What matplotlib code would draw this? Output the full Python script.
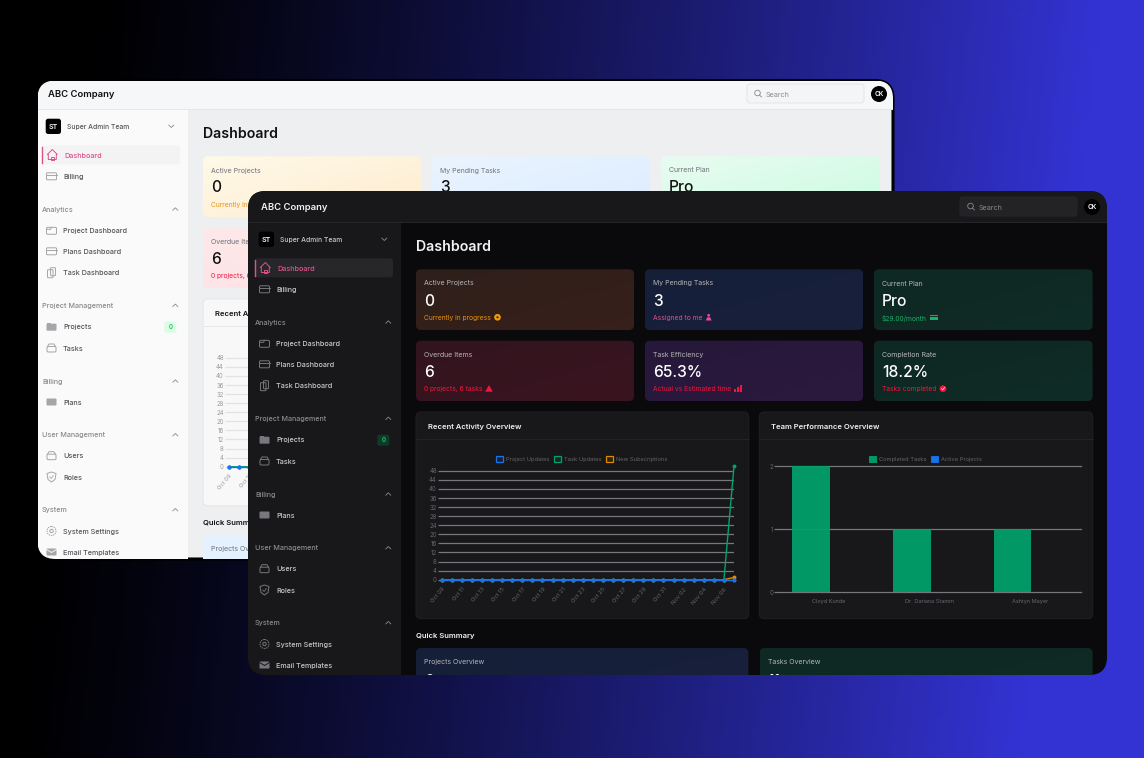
import numpy as np
import matplotlib
matplotlib.use("Agg")
import matplotlib.pyplot as plt
from matplotlib.patches import FancyBboxPatch, Rectangle, Polygon, Circle, Patch
from matplotlib.text import Text
from matplotlib.transforms import Bbox, TransformedBbox

plt.rcParams['font.family'] = ['Inter', 'DejaVu Sans']

W, H = 1144, 758

# chart data
activity_dates = ['Oct 09', 'Oct 10', 'Oct 11', 'Oct 12', 'Oct 13', 'Oct 14', 'Oct 15', 'Oct 16', 'Oct 17', 'Oct 18',
                  'Oct 19', 'Oct 20', 'Oct 21', 'Oct 22', 'Oct 23', 'Oct 24', 'Oct 25', 'Oct 26', 'Oct 27', 'Oct 28',
                  'Oct 29', 'Oct 30', 'Oct 31', 'Nov 01', 'Nov 02', 'Nov 03', 'Nov 04', 'Nov 05', 'Nov 06', 'Nov 07']
project_updates = [0, 0, 0, 0, 0, 0, 0, 0, 0, 0, 0, 0, 0, 0, 0, 0, 0, 0, 0, 0, 0, 0, 0, 0, 0, 0, 0, 0, 0, 0]
task_updates = [0, 0, 0, 0, 0, 0, 0, 0, 0, 0, 0, 0, 0, 0, 0, 0, 0, 0, 0, 0, 0, 0, 0, 0, 0, 0, 0, 0, 0, 50]
new_subscriptions = [0, 0, 0, 0, 0, 0, 0, 0, 0, 0, 0, 0, 0, 0, 0, 0, 0, 0, 0, 0, 0, 0, 0, 0, 0, 0, 0, 0, 0, 1]

team_members = ['Cloyd Kunde', 'Dr. Dariana Stamm', 'Ashtyn Mayer']
completed_tasks = [2, 1, 1]
active_projects = [0, 0, 0]

# stat cards
card_labels = ['Active Projects', 'My Pending Tasks', 'Current Plan', 'Overdue Items', 'Task Efficiency', 'Completion Rate']
card_values = ['0', '3', 'Pro', '6', '65.3%', '18.2%']
card_notes = ['Currently in progress', 'Assigned to me', '$29.00/month', '0 projects, 6 tasks', 'Actual vs Estimated time', 'Tasks completed']

BLUE, GREEN, ORANGE = '#1a73e8', '#00a36c', '#dd8a00'

DARK = dict(win='#0a0a0c', head='#18181b', side='#18181b', line='#26262a', title='#f2f2f2', text='#c8c8cc',
            muted='#8a8a8e', edge='none', chart='#18181b', chart_edge='#202024', grid='#77777c', tick='#66666b',
            active='#27272a', st='#000000', st_text='#ffffff', value='#ffffff', icon='#77777c', badge='#0d3b2a',
            search='#232326', avatar='#000000', sub='#b5b5b8',
            cards=[('#2e1f1a', '#38201a'), ('#161f38', '#18203c'), ('#0e2823', '#102c26'),
                   ('#32141e', '#3a1520'), ('#26183a', '#2c183e'), ('#0e2823', '#102c26'),
                   ('#161f38', '#18203c'), ('#0e2823', '#102c26')])
LIGHT = dict(win='#eeeff0', head='#f6f7f8', side='#fafafa', line='#e6e7e8', title='#111111', text='#55555a',
             muted='#8a8a8e', edge='#000000', chart='#f8f8f9', chart_edge='#e6e6e8', grid='#e2e2e4', tick='#9a9a9e',
             active='#f3f3f4', st='#000000', st_text='#ffffff', value='#111111', icon='#a5a5aa', badge='#dcfce7',
             search='#f4f5f6', avatar='#000000', sub='#70707a',
             cards=[('#fef9e8', '#ffecd0'), ('#eaf4fe', '#dcecfe'), ('#e8fbf1', '#ccfbe0'),
                    ('#fde9ea', '#ffe0e4'), ('#f3e8ff', '#ecdcff'), ('#e8fbf1', '#ccfbe0'),
                    ('#e6f2fe', '#dcecfe'), ('#e8fbf1', '#ccfbe0')])

fig = plt.figure(figsize=(W / 100, H / 100), dpi=100)


def layer(z):
    ax = fig.add_axes([0, 0, 1, 1], zorder=z)
    ax.set_xlim(0, W)
    ax.set_ylim(H, 0)
    ax.axis('off')
    return ax


def round_box(ax, x0, y0, x1, y1, r, fc, ec='none', lw=0.0, z=2):
    p = FancyBboxPatch((x0 + r, y0 + r), x1 - x0 - 2 * r, y1 - y0 - 2 * r, boxstyle='round,pad=%f,rounding_size=%f' % (r, r),
                       fc=fc, ec=ec, lw=lw, zorder=z)
    ax.add_patch(p)
    return p


def gradient_box(ax, x0, y0, x1, y1, r, c1, c2, win_box):
    p = round_box(ax, x0, y0, x1, y1, r, 'none')
    a = np.array(matplotlib.colors.to_rgb(c1))
    b = np.array(matplotlib.colors.to_rgb(c2))
    xx, yy = np.meshgrid(np.linspace(0, 1, 60), np.linspace(0, 1, 20))
    t = ((xx + yy) / 2)[..., None]
    im = ax.imshow(a + (b - a) * t, extent=(x0, x1, y1, y0), aspect='auto', zorder=2)
    im.set_clip_path(p)
    im.set_clip_box(win_box)
    im.gradient = True
    ax.set_xlim(0, W)
    ax.set_ylim(H, 0)


def draw_icon(ax, kind, x, y, c):
    s = dict(fc='none', ec=c, lw=0.7, zorder=5)
    if kind == 'home':
        ax.add_patch(Polygon([(x - 5, y), (x, y - 5), (x + 5, y), (x + 4, y), (x + 4, y + 5), (x - 4, y + 5), (x - 4, y)], closed=True, **s))
        ax.add_patch(Rectangle((x - 1.2, y + 2), 2.4, 3, **s))
    elif kind == 'card':
        round_box(ax, x - 5, y - 3.5, x + 5, y + 3.5, 1, 'none', c, 0.7, 5)
        ax.plot([x - 5, x + 5], [y - 1.5, y - 1.5], color=c, lw=0.7, zorder=5)
    elif kind == 'card_fill':
        round_box(ax, x - 5, y - 3.5, x + 5, y + 3.5, 1, c, 'none', 0, 5)
    elif kind == 'folder':
        round_box(ax, x - 5, y - 3, x + 5, y + 4, 1.2, 'none', c, 0.7, 5)
        ax.plot([x - 5, x - 1, x], [y - 1, y - 1, y - 3], color=c, lw=0.7, zorder=5)
    elif kind == 'folder_fill':
        round_box(ax, x - 5, y - 3, x + 5, y + 4, 1, c, 'none', 0, 5)
        ax.add_patch(Rectangle((x - 5, y - 4), 4, 2, fc=c, ec='none', zorder=5))
    elif kind == 'docs':
        round_box(ax, x - 4, y - 3, x + 1.5, y + 5, 0.8, 'none', c, 0.7, 5)
        round_box(ax, x - 1, y - 5, x + 4, y + 3, 0.8, 'none', c, 0.7, 5)
    elif kind == 'box':
        round_box(ax, x - 4.5, y - 1.5, x + 4.5, y + 4, 1.2, 'none', c, 0.7, 5)
        ax.plot([x - 4, x - 2.5, x + 2.5, x + 4], [y - 1.5, y - 4, y - 4, y - 1.5], color=c, lw=0.7, zorder=5)
    elif kind == 'shield':
        ax.add_patch(Polygon([(x - 4.5, y - 3.5), (x, y - 5), (x + 4.5, y - 3.5), (x + 3.5, y + 2.5), (x, y + 5), (x - 3.5, y + 2.5)], closed=True, **s))
        ax.plot([x - 1.8, x - 0.4, x + 1.8], [y, y + 1.5, y - 1.5], color=c, lw=0.6, zorder=5)
    elif kind == 'gear':
        ax.add_patch(Circle((x, y), 4.5, ls=(0, (1.5, 0.8)), **s))
        ax.add_patch(Circle((x, y), 1.7, **s))
    elif kind == 'mail':
        round_box(ax, x - 5, y - 3.5, x + 5, y + 3.5, 0.8, c, 'none', 0, 5)
        ax.plot([x - 5, x, x + 5], [y - 2.5, y + 0.5, y - 2.5], color='#f5f5f5' if c == LIGHT['icon'] else '#18181b', lw=0.7, zorder=6)


def chevron(ax, x, y, c, up=True):
    d = -1.2 if up else 1.2
    ax.plot([x - 2.5, x, x + 2.5], [y - d, y + d, y - d], color=c, lw=0.6, zorder=5)


def note_icon(ax, i, x, y):
    if i == 0:
        ax.add_patch(Circle((x, y), 3.3, fc='#f59e0b', ec='none', zorder=5))
        ax.add_patch(Circle((x, y), 1.1, fc='#35201a', ec='none', zorder=6))
    elif i == 1:
        ax.add_patch(Circle((x, y - 2), 1.4, fc='#ec4899', ec='none', zorder=5))
        ax.add_patch(Polygon([(x - 3, y + 3.2), (x - 1.5, y), (x + 1.5, y), (x + 3, y + 3.2)], fc='#ec4899', ec='none', zorder=5))
    elif i == 2:
        ax.add_patch(Rectangle((x - 4, y - 2.8), 8, 5.6, fc='#16b364', ec='none', zorder=5))
        ax.add_patch(Rectangle((x - 4, y - 1.2), 8, 0.9, fc='#0e2823', ec='none', zorder=6))
    elif i == 3:
        ax.add_patch(Polygon([(x - 3.8, y + 3), (x, y - 3.6), (x + 3.8, y + 3)], fc='#f4143c', ec='none', zorder=5))
    elif i == 4:
        for j, h in enumerate([2.5, 4.5, 6.5]):
            ax.add_patch(Rectangle((x - 4 + j * 2.9, y + 3 - h), 2.1, h, fc='#f4143c', ec='none', zorder=5))
    else:
        ax.add_patch(Circle((x, y), 3.4, fc='#f4143c', ec='none', zorder=5))
        ax.plot([x - 1.4, x - 0.3, x + 1.6], [y, y + 1.2, y - 1.2], color='white', lw=0.5, zorder=6)


def chart_axes(x0, y0, x1, y1, z):
    ax = fig.add_axes([x0 / W, 1 - y1 / H, (x1 - x0) / W, (y1 - y0) / H], zorder=z)
    ax.patch.set_visible(False)
    for s in ax.spines.values():
        s.set_visible(False)
    return ax


def draw_window(dx, dy, bounds, th, z):
    ax = layer(z)
    left, top, right, bottom = bounds
    win = round_box(ax, left, top, right, bottom, 18, th['win'], th['edge'], 2.2, 1)
    win_box = TransformedBbox(Bbox([[left, top], [right, bottom]]), ax.transData)

    def tx(x, y, s, c, size, weight='normal', ha='left'):
        # the light window is mostly behind the dark one, no text where it cant be seen
        if dx != 0 and x + dx > 248 and y + dy > 191:
            return
        ax.text(x + dx, y + dy + 0.7, s, color=c, fontsize=size, fontweight=weight, ha=ha, va='center', zorder=6)

    # header and sidebar
    ax.add_patch(Rectangle((left, top), right - left, 222 + dy - top, fc=th['head'], ec='none', zorder=1.5))
    ax.add_patch(Rectangle((left, 222 + dy), 401 + dx - left, bottom - top, fc=th['side'], ec='none', zorder=1.5))
    ax.plot([left, right], [222 + dy, 222 + dy], color=th['line'], lw=0.7, zorder=1.6)
    tx(261, 207, 'ABC Company', th['title'], 6.8, 'semibold')
    round_box(ax, 960 + dx, 197 + dy, 1077 + dx, 216 + dy, 3, th['search'], th['line'], 0.8, 3)
    ax.add_patch(Circle((970.5 + dx, 206 + dy), 2.8, fc='none', ec=th['muted'], lw=0.6, zorder=5))
    ax.plot([972.6 + dx, 974.5 + dx], [208.2 + dy, 210 + dy], color=th['muted'], lw=0.6, zorder=5)
    tx(979, 207, 'Search', th['muted'], 5.2)
    ax.add_patch(Circle((1092 + dx, 207 + dy), 8, fc=th['avatar'], ec='none', zorder=5))
    tx(1092, 206.5, 'CK', '#ffffff', 4.6, 'semibold', 'center')

    # team switcher and menu
    round_box(ax, 258.7 + dx, 231.7 + dy, 274 + dx, 247 + dy, 2.5, th['st'], z=3)
    tx(266.3, 239, 'ST', th['st_text'], 5, 'semibold', 'center')
    tx(280, 239.3, 'Super Admin Team', th['text'], 4.9, 'medium')
    chevron(ax, 384.3 + dx, 239.3 + dy, th['muted'], False)
    round_box(ax, 254.7 + dx, 258.3 + dy, 393 + dx, 277.3 + dy, 3, th['active'], z=3)
    ax.plot([255.2 + dx, 255.2 + dx], [260 + dy, 276 + dy], color='#e0508a', lw=1, zorder=4)
    draw_icon(ax, 'home', 265.3 + dx, 267.5 + dy, '#e0508a')
    tx(277, 268.3, 'Dashboard', '#e0508a', 5.2, 'medium')

    menu = [('card', 'Billing', 289.3), ('folder', 'Project Dashboard', 343.3), ('card', 'Plans Dashboard', 364.3),
            ('docs', 'Task Dashboard', 385.7), ('folder_fill', 'Projects', 439.7), ('box', 'Tasks', 461),
            ('card_fill', 'Plans', 515), ('box', 'Users', 568.7), ('shield', 'Roles', 590),
            ('gear', 'System Settings', 644), ('mail', 'Email Templates', 665)]
    for kind, name, y in menu:
        draw_icon(ax, kind, 264.5 + dx, y + dy, th['icon'])
        tx(276, y, name, th['text'], 5.2, 'medium')
    for name, y in [('Analytics', 322), ('Project Management', 418.3), ('Billing', 494), ('User Management', 547.7), ('System', 622.7)]:
        tx(255, y, name, th['muted'], 5.2, 'medium')
        chevron(ax, 388.3 + dx, y + dy, th['muted'])
    round_box(ax, 377.3 + dx, 434.7 + dy, 389.3 + dx, 445.7 + dy, 2, th['badge'], z=3)
    tx(383.3, 439.7, '0', '#22c55e', 4.4, 'semibold', 'center')

    # page heading and stat cards
    tx(416, 246, 'Dashboard', th['title'], 10.2, 'semibold')
    xs = [(416, 634), (645, 863), (874, 1092.6)]
    ys = [(269.3, 330), (340.7, 401)]
    note_colors = ['#e8920c', '#e0508a', '#16b364', '#f4143c', '#f4143c', '#f4143c']
    note_ends = [497.5, 708.7, 934, 489, 737.7, 943]
    for i in range(6):
        x0, x1 = xs[i % 3]
        y0, y1 = ys[i // 3]
        c1, c2 = th['cards'][i]
        gradient_box(ax, x0 + dx, y0 + dy, x1 + dx, y1 + dy, 5, c1, c2, win_box)
        tx(x0 + 8, y0 + 13.5, card_labels[i], th['sub'], 5)
        tx(x0 + 8, y0 + 31, card_values[i], th['value'], 11.2, 'medium')
        tx(x0 + 8, y0 + 48, card_notes[i], note_colors[i], 4.8)
        note_icon(ax, i, note_ends[i] + dx, y0 + 48 + dy)

    # chart panels
    for x0, x1, title in [(416, 748.7, 'Recent Activity Overview'), (759.3, 1092.7, 'Team Performance Overview')]:
        round_box(ax, x0 + dx, 412 + dy, x1 + dx, 618.7 + dy, 5, th['chart'], th['chart_edge'], 0.7, 2)
        ax.plot([x0 + dx, x1 + dx], [438.7 + dy, 438.7 + dy], color=th['line'], lw=0.6, zorder=3)
        tx(x0 + 11.8, 426, title, th['title'], 5.5, 'semibold')

    # quick summary
    tx(416, 635.3, 'Quick Summary', th['title'], 5.5, 'semibold')
    gradient_box(ax, 416 + dx, 648 + dy, 748.4 + dx, 720 + dy, 5, *th['cards'][6], win_box)
    gradient_box(ax, 759.6 + dx, 648 + dy, 1092.6 + dx, 720 + dy, 5, *th['cards'][7], win_box)
    tx(424, 661.3, 'Projects Overview', th['sub'], 5)
    tx(767.5, 661.3, 'Tasks Overview', th['sub'], 5)
    tx(424, 681, '0', th['value'], 11.2, 'medium')
    tx(767.5, 681, '11', th['value'], 11.2, 'medium')

    # keep everything inside the window
    for a in ax.get_children():
        if a is win or a is ax.patch or a in ax.spines.values() or a is ax.xaxis or a is ax.yaxis:
            continue
        if hasattr(a, 'gradient'):
            continue
        a.set_clip_on(True)
        if isinstance(a, Text):
            # agg ignores clip paths for text, a box works
            a.set_clip_box(win_box)
        else:
            a.set_clip_path(win)

    # line chart
    c1 = chart_axes(441.7 + dx, 466.3 + dy, 734 + dx, 579.7 + dy, z + 1)
    x = np.arange(len(activity_dates))
    c1.plot(x, new_subscriptions, color=ORANGE, lw=1, marker='o', ms=1.8, clip_on=False, zorder=3)
    c1.plot(x, task_updates, color=GREEN, lw=1, marker='o', ms=1.8, clip_on=False, zorder=4)
    c1.plot(x, project_updates, color=BLUE, lw=1, marker='o', ms=2, clip_on=False, zorder=5)
    c1.set_xlim(0, len(x) - 1)
    c1.set_ylim(0, 50)
    c1.set_yticks(range(0, 49, 4))
    c1.set_xticks(x[::2])
    shown = list(activity_dates[::2])
    if dx != 0:
        shown = shown[:2] + [''] * (len(shown) - 2)
    c1.set_xticklabels(shown, rotation=50, ha='right', rotation_mode='anchor')
    c1.grid(axis='y', color=th['grid'], lw=0.9)
    c1.set_axisbelow(True)
    c1.tick_params(axis='y', length=3, width=0.9, color=th['grid'], labelcolor=th['tick'], labelsize=4.4, pad=0.5)
    c1.tick_params(axis='x', length=0, labelcolor=th['tick'], labelsize=4.2, pad=5)

    if dx != 0:
        return

    # the rest of the charts only shows in the front window
    handles = [Patch(fc=matplotlib.colors.to_rgba(BLUE, 0.1), ec=BLUE, lw=0.9, label='Project Updates'),
               Patch(fc=matplotlib.colors.to_rgba(GREEN, 0.1), ec=GREEN, lw=0.9, label='Task Updates'),
               Patch(fc=matplotlib.colors.to_rgba(ORANGE, 0.1), ec=ORANGE, lw=0.9, label='New Subscriptions')]
    c1.legend(handles=handles, loc='center', bbox_to_anchor=(582 + dx, 458.7 + dy), bbox_transform=ax.transData, ncol=3,
              frameon=False, fontsize=4.1, labelcolor=th['tick'], handlelength=1.2, handleheight=1.3, handletextpad=0.55,
              columnspacing=0.8, borderpad=0, borderaxespad=0)

    # bar chart
    c2 = chart_axes(778.3 + dx, 466.3 + dy, 1080.7 + dx, 592.3 + dy, z + 1)
    pos = np.arange(len(team_members))
    c2.bar(pos - 0.18, completed_tasks, 0.36, color=matplotlib.colors.to_rgba(GREEN, 0.93), ec=GREEN, lw=0.6, label='Completed Tasks', zorder=3)
    c2.bar(pos + 0.18, active_projects, 0.36, color=BLUE, ec=BLUE, lw=0.6, label='Active Projects', zorder=3)
    c2.set_xlim(-0.5, 2.5)
    c2.set_ylim(0, 2)
    c2.set_yticks([0, 1, 2])
    c2.set_xticks(pos)
    c2.set_xticklabels(team_members)
    c2.grid(axis='y', color=th['grid'], lw=0.9, clip_on=False)
    c2.set_axisbelow(True)
    c2.tick_params(axis='y', length=3, width=0.9, color=th['grid'], labelcolor=th['tick'], labelsize=4.4, pad=0.5)
    c2.tick_params(axis='x', length=0, labelcolor=th['tick'], labelsize=4.0, pad=5)
    c2.legend(loc='center', bbox_to_anchor=(925.5 + dx, 458.7 + dy), bbox_transform=ax.transData, ncol=2, frameon=False,
              fontsize=4.1, labelcolor=th['tick'], handlelength=1.2, handleheight=1.3, handletextpad=0.55,
              columnspacing=0.8, borderpad=0, borderaxespad=0)


# page background, black on the left going to blue on the right
bg = layer(0)
xx, yy = np.meshgrid(np.linspace(0, 1, 300), np.linspace(0, 1, 200))
t = np.clip(xx * 1.12 - 0.08 + 0.08 * yy, 0, 1)[..., None] ** 1.25
bg.imshow(t * np.array([0.2, 0.2, 0.83]), extent=(0, W, H, 0), aspect='auto')

draw_window(-213, -113, (37.5, 80.5, 893, 559), LIGHT, 1)
draw_window(0, 0, (248, 191, 1107, 675), DARK, 3)

fig.savefig('out.png', dpi=100)
